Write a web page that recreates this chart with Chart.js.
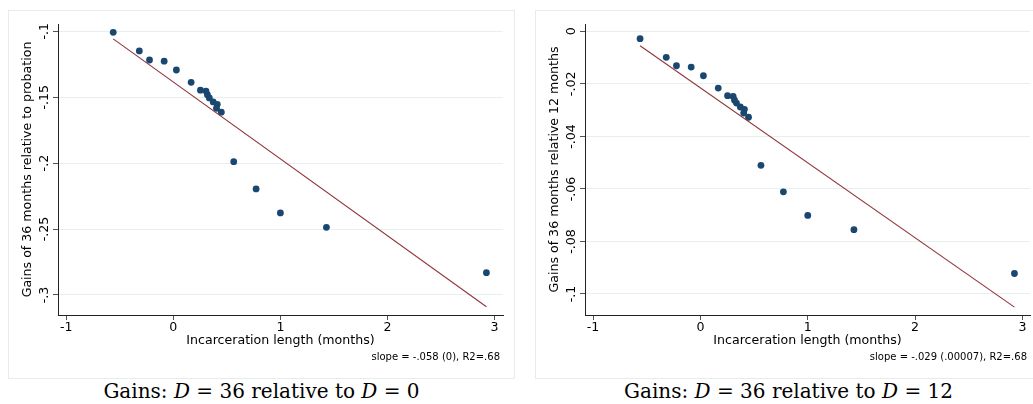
<!DOCTYPE html>
<html>
<head>
<meta charset="utf-8">
<script src="https://cdn.jsdelivr.net/npm/chart.js@4/dist/chart.umd.min.js"></script>
<style>
  html, body { margin: 0; padding: 0; background: #fff; overflow: hidden; }
  body { width: 1033px; height: 404px; position: relative; }
  .panel {
    position: absolute; top: 10px; width: 507px; height: 369px;
    box-sizing: border-box; border: 1px solid #e4ecec; background: #fff;
  }
  .panel canvas { position: absolute; left: 0; top: 0; }
  .caption {
    position: absolute; top: 381px; width: 507px; text-align: center;
    font-family: "DejaVu Serif", serif; font-size: 20px; line-height: 20px; color: #000;
  }
</style>
</head>
<body>

<div class="panel" style="left:8px"><canvas id="gains0" width="505" height="367"></canvas></div>
<div class="panel" style="left:535px"><canvas id="gains12" width="505" height="367"></canvas></div>
<div class="caption" style="left:8px">Gains: <i>D</i> = 36 relative to <i>D</i> = 0</div>
<div class="caption" style="left:535px">Gains: <i>D</i> = 36 relative to <i>D</i> = 12</div>

<script>
// ── Data ─────────────────────────────────────────────────────
// Incarceration length (months), same bins in both panels
const incarcerationLength = [
  -0.562, -0.318, -0.223, -0.086, 0.028, 0.166, 0.253, 0.305, 0.318, 0.336,
  0.372, 0.410, 0.403, 0.448, 0.564, 0.773, 1.000, 1.430, 2.925
];

// Gains of 36 months relative to probation (D = 0)
const gainsVs0 = [
  -0.1008, -0.1149, -0.1218, -0.1227, -0.1294, -0.1387, -0.1447, -0.1454, -0.1481, -0.1506,
  -0.1536, -0.1554, -0.1584, -0.1614, -0.1989, -0.2196, -0.2378, -0.2487, -0.2831
];

// Gains of 36 months relative to 12 months (D = 12)
const gainsVs12 = [
  -0.0028, -0.0099, -0.0131, -0.0136, -0.0169, -0.0216, -0.0245, -0.0248, -0.0262, -0.0273,
  -0.0288, -0.0297, -0.0311, -0.0327, -0.0510, -0.0611, -0.0701, -0.0755, -0.0922
];

// Fitted line, value at the first and last x
const fitVs0  = [-0.1058, -0.3089];
const fitVs12 = [-0.0055, -0.1050];

// Tick values
const xTicks      = [-1, 0, 1, 2, 3];
const yTicksVs0   = [-0.3, -0.25, -0.2, -0.15, -0.1];
const yTicksVs12  = [-0.1, -0.08, -0.06, -0.04, -0.02, 0];

// Stata style labels: -.15 instead of -0.15
const stataLabel = (v) =>
  v === 0 ? '0' : String(+v.toFixed(4)).replace(/^(-?)0\./, '$1.');

const FONT = 'DejaVu Sans';

// Small plugin: the regression note under the x axis title
const notePlugin = {
  id: 'note',
  afterDraw(chart, args, opts) {
    const ctx = chart.ctx;
    ctx.save();
    ctx.font = '10px "' + FONT + '"';
    ctx.fillStyle = '#000';
    ctx.textAlign = 'right';
    ctx.textBaseline = 'middle';
    ctx.fillText(opts.text, chart.chartArea.right - 3, 346.5);
    ctx.restore();
  }
};

function makeChart(id, ys, fit, yTicks, yMin, yMax, xMin, xMax, yTitle, note) {
  const xs = incarcerationLength;
  const last = xs.length - 1;
  new Chart(document.getElementById(id), {
    type: 'scatter',
    data: {
      datasets: [
        {
          // fitted line (drawn on top)
          type: 'line',
          data: [{ x: xs[0], y: fit[0] }, { x: xs[last], y: fit[1] }],
          borderColor: '#90353b',
          borderWidth: 1.1,
          pointRadius: 0,
          fill: false
        },
        {
          data: xs.map((x, i) => ({ x: x, y: ys[i] })),
          backgroundColor: '#1a476f',
          borderWidth: 0,
          pointRadius: 3.4
        }
      ]
    },
    options: {
      responsive: false,
      animation: false,
      devicePixelRatio: 1,
      layout: { padding: { top: 13, right: 11, bottom: 27, left: 0 } },
      plugins: {
        legend: { display: false },
        tooltip: { enabled: false },
        note: { text: note }
      },
      scales: {
        x: {
          type: 'linear',
          min: xMin, max: xMax,
          afterBuildTicks: s => { s.ticks = xTicks.map(v => ({ value: v })); },
          afterFit: s => { s.height = 36; },
          grid: { drawOnChartArea: false, tickLength: 5, tickColor: '#555' },
          border: { display: true, color: '#222', width: 1 },
          ticks: {
            padding: 0,
            color: '#000',
            font: { family: FONT, size: 12.6 },
            callback: v => stataLabel(v)
          },
          title: {
            display: true,
            text: 'Incarceration length (months)',
            color: '#000',
            font: { family: FONT, size: 12.6 },
            padding: { top: 0, bottom: 2.4 }
          }
        },
        y: {
          type: 'linear',
          min: yMin, max: yMax,
          afterBuildTicks: s => { s.ticks = yTicks.map(v => ({ value: v })); },
          afterFit: s => { s.width = 49; },
          grid: { color: '#e8efef', lineWidth: 1, tickLength: 5, tickColor: '#555' },
          border: { display: true, color: '#222', width: 1 },
          ticks: {
            minRotation: 90, maxRotation: 90,
            crossAlign: 'center',
            padding: -4.3,
            color: '#000',
            font: { family: FONT, size: 12.6 },
            callback: v => stataLabel(v)
          },
          title: {
            display: true,
            text: yTitle,
            color: '#000',
            font: { family: FONT, size: 12.6 },
            padding: { top: 11.4, bottom: 0 }
          }
        }
      }
    },
    plugins: [notePlugin]
  });
}

makeChart('gains0', gainsVs0, fitVs0, yTicksVs0, -0.3152, -0.0945, -1.078, 3.08,
  'Gains of 36 months relative to probation', 'slope = -.058 (0), R2=.68');

makeChart('gains12', gainsVs12, fitVs12, yTicksVs12, -0.108, 0.0028, -1.075, 3.07,
  'Gains of 36 months relative 12 months', 'slope = -.029 (.00007), R2=.68');
</script>
</body>
</html>
